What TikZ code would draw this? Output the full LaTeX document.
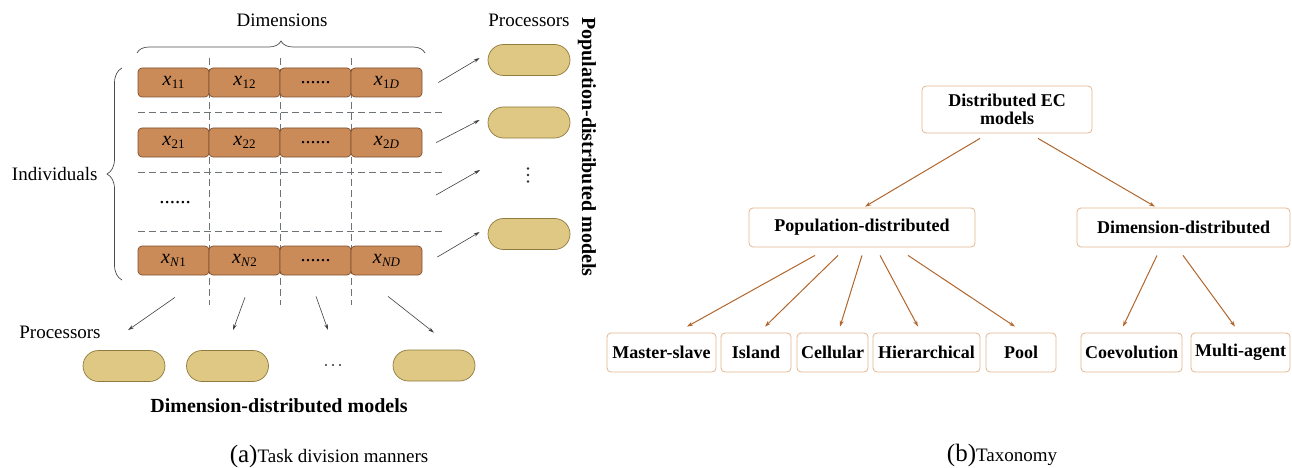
\documentclass[tikz,border=0pt]{standalone}
\usepackage{fontspec}
\setmainfont{Liberation Serif}
\usetikzlibrary{arrows.meta,decorations.pathreplacing,calc}
\definecolor{cellfill}{HTML}{CB8B58}
\definecolor{celldraw}{HTML}{7D5030}
\definecolor{pillfill}{HTML}{DEC883}
\definecolor{pilldraw}{HTML}{8F7B3E}
\definecolor{treedraw}{HTML}{E3B58E}
\definecolor{treearrow}{HTML}{B0662C}
\definecolor{dashgray}{HTML}{6E7378}
\newcommand{\xv}[1]{\textit{x}\kern0.3pt\raisebox{-3pt}{\fontsize{13}{13}\selectfont #1}}
\begin{document}
\begin{tikzpicture}[x=1pt,y=-1pt,
  cell/.style={draw=celldraw, fill=cellfill, rounded corners=4pt, minimum width=71pt, minimum height=29pt, inner sep=0pt, line width=0.7pt, font=\fontsize{20}{22}\selectfont},
  pill/.style={draw=pilldraw, fill=pillfill, rounded corners=15.5pt, minimum width=82pt, minimum height=31pt, inner sep=0pt, line width=0.7pt},
  tbox/.style={draw=treedraw, rounded corners=4pt, line width=0.8pt, font=\fontsize{18}{20}\selectfont\bfseries, minimum height=39pt, inner sep=0pt, align=center},
  tarrow/.style={draw=treearrow, line width=1pt, -{Stealth[length=6pt,width=4pt]}},
  garrow/.style={draw=black!75, line width=0.6pt, -{Stealth[length=6pt,width=3.5pt]}},
  dline/.style={draw=dashgray, line width=0.7pt, dash pattern=on 7pt off 4pt},
  dotmark/.style={fill=black!80, draw=none},
  lbl/.style={font=\fontsize{19}{21}\selectfont},
  blbl/.style={font=\fontsize{20}{22}\selectfont\bfseries}]
\useasboundingbox (0,0) rectangle (1292,468);

% ---------- (a) ----------
\node[lbl, anchor=base] (dimlbl) at (282,27) {Dimensions};
\draw[black!70, line width=0.7pt, decorate, decoration={brace, amplitude=12pt}] (137,53) -- (425,53);
\draw[black!70, line width=0.7pt, decorate, decoration={brace, amplitude=15pt}] (122,280) -- (122,68);
\node[lbl, anchor=base east] (indlbl) at (101,180) {Individuals};

% dashed grid
\foreach \yy in {112,172,231} \draw[dline] (138,\yy) -- (445,\yy);
\foreach \xx in {209.5,280.5,351.5} \draw[dline] (\xx,58) -- (\xx,305);

% cells
\node[cell] (c11) at (173.5,82.5) {\xv{11}};
\node[cell] (c12) at (244.5,82.5) {\xv{12}};
\node[cell] (c13) at (315.5,82.5) {......};
\node[cell] (c14) at (386.5,82.5) {\xv{1\textit{D}}};
\node[cell] (c21) at (173.5,142.5) {\xv{21}};
\node[cell] (c22) at (244.5,142.5) {\xv{22}};
\node[cell] (c23) at (315.5,142.5) {......};
\node[cell] (c24) at (386.5,142.5) {\xv{2\textit{D}}};
\node[cell] (cN1) at (173.5,260.5) {\xv{\textit{N}1}};
\node[cell] (cN2) at (244.5,260.5) {\xv{\textit{N}2}};
\node[cell] (cN3) at (315.5,260.5) {......};
\node[cell] (cN4) at (386.5,260.5) {\xv{\textit{ND}}};
\node[font=\fontsize{21}{21}\selectfont, anchor=base] (rdots) at (175,203) {......};

% right processors
\node[lbl, anchor=base] (procR) at (529,27) {Processors};
\node[pill] (p1) at (529,60) {};
\node[pill] (p2) at (529,122.5) {};
\coordinate (vd) at (528,175);
\foreach \dy in {-6.5,0,6.5} \fill[dotmark] ([yshift=\dy pt]vd) circle (1.3pt);
\node[pill] (p4) at (529,234) {};
\node[blbl, rotate=-90] (poplbl) at (587,147) {Population-distributed models};

\coordinate (m3) at (436,195);
\draw[garrow] ([xshift=16pt]c14.east) -- ([shift={(-8,-2)}]p1.west);
\draw[garrow] ([xshift=14pt]c24.east) -- ([shift={(-8,-2.5)}]p2.west);
\draw[garrow] (m3) -- ([shift={(-48,-5)}]vd);
\draw[garrow] ([shift={(15,-3.5)}]cN4.east) -- ([shift={(-8,-2)}]p4.west);

% bottom processors
\node[lbl, anchor=base] (procB) at (60,338) {Processors};
\node[pill] (q1) at (124,366) {};
\node[pill] (q2) at (227.5,366) {};
\coordinate (hd) at (333,365);
\foreach \dx in {-7,0,7} \fill[dotmark] ([xshift=\dx pt]hd) circle (1.2pt);
\node[pill] (q4) at (434,365.5) {};
\node[blbl, anchor=base] (dimdist) at (279,412) {Dimension-distributed models};

\draw[garrow] ([shift={(1.5,22)}]cN1.south) -- ([shift={(4,-20)}]q1.north);
\draw[garrow] ([shift={(0.5,22)}]cN2.south) -- ([shift={(5.5,-20)}]q2.north);
\draw[garrow] ([shift={(0.5,21)}]cN3.south) -- ([shift={(-5,-35)}]hd);
\draw[garrow] ([shift={(1.5,21)}]cN4.south) -- ([shift={(0,-17)}]q4.north);

\node[lbl, anchor=base] (capa) at (329,462) {{\fontsize{25}{25}\selectfont(a)}Task division manners};

% ---------- (b) ----------
\node[tbox, minimum width=170pt, minimum height=47pt] (root) at (1007,109.5) {Distributed EC\\[-2pt]models};
\node[tbox, minimum width=226pt] (pop) at (862,227.5) {Population-distributed};
\node[tbox, minimum width=213pt] (dim) at (1183.5,227.5) {Dimension-distributed};
\node[tbox, minimum width=109pt] (ms) at (661.5,352.5) {Master-slave};
\node[tbox, minimum width=70pt] (isl) at (756,352.5) {Island};
\node[tbox, minimum width=71pt] (cel) at (832.5,352.5) {Cellular};
\node[tbox, minimum width=107pt] (hie) at (926.5,352.5) {Hierarchical};
\node[tbox, minimum width=70pt] (pool) at (1021,352.5) {Pool};
\node[tbox, minimum width=101pt] (coe) at (1131.5,352.5) {Coevolution};
\node[tbox, minimum width=99pt] (mag) at (1240.5,352.5) {Multi-agent};

\draw[tarrow] ([shift={(-27,5)}]root.south) -- ([shift={(3,-1)}]pop.north);
\draw[tarrow] ([shift={(31,5)}]root.south) -- ([shift={(-28.5,-1)}]dim.north);
\draw[tarrow] ([shift={(-47,8)}]pop.south) -- ([shift={(25.5,-6)}]ms.north);
\draw[tarrow] ([shift={(-24,8)}]pop.south) -- ([shift={(9,-6)}]isl.north);
\draw[tarrow] ([shift={(0,8)}]pop.south) -- ([shift={(7.5,-6)}]cel.north);
\draw[tarrow] ([shift={(18,8)}]pop.south) -- ([shift={(-8.5,-6)}]hie.north);
\draw[tarrow] ([shift={(46,8)}]pop.south) -- ([shift={(-6,-6)}]pool.north);
\draw[tarrow] ([shift={(-26.5,8)}]dim.south) -- ([shift={(-8.5,-6)}]coe.north);
\draw[tarrow] ([shift={(-0.5,8)}]dim.south) -- ([shift={(-5.5,-6)}]mag.north);

\node[lbl, anchor=base] (capb) at (1002,461) {{\fontsize{25}{25}\selectfont(b)}Taxonomy};
\end{tikzpicture}
\end{document}
